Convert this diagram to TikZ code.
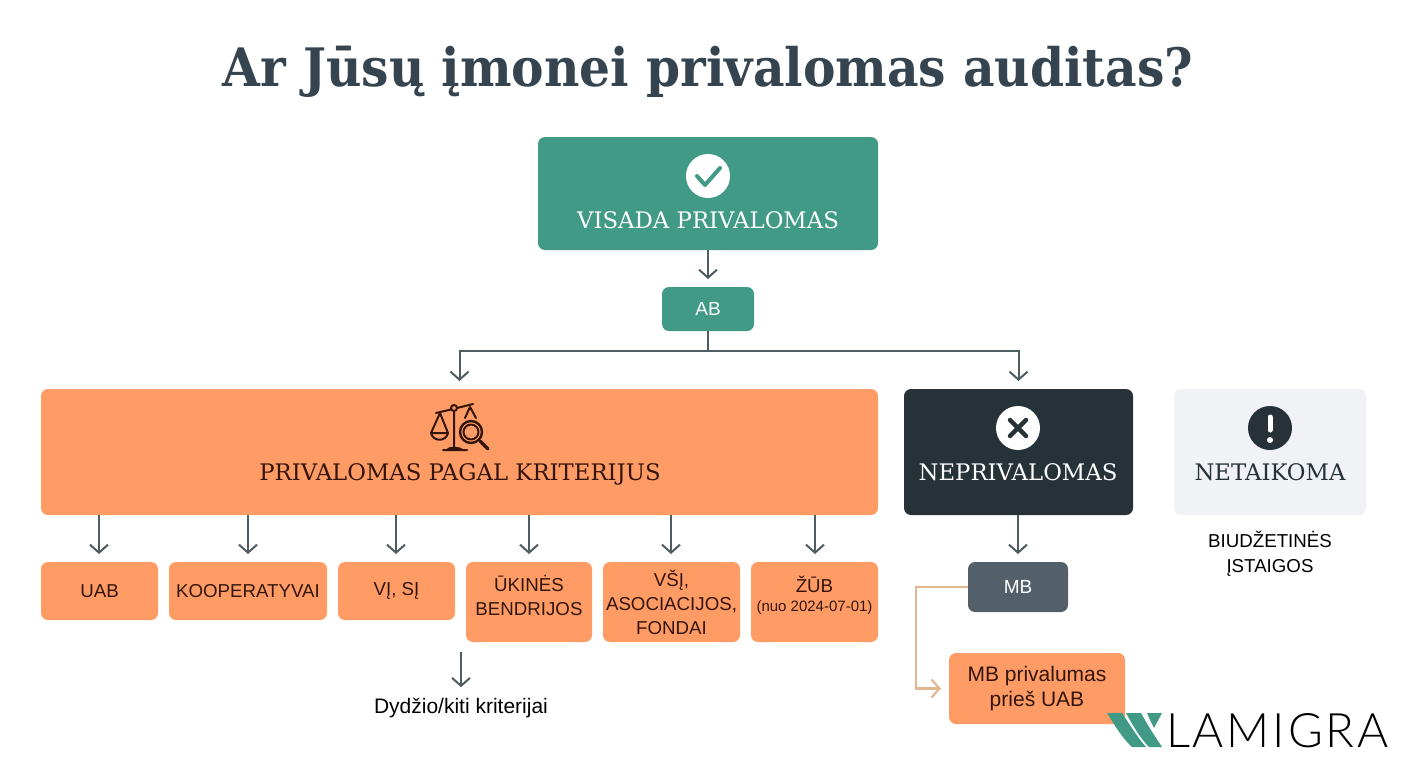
\documentclass[tikz,border=0pt]{standalone}
\usepackage{fontspec}
\usepackage{xcolor}
\setmainfont{Liberation Sans}
\newfontfamily\titlefont[FakeStretch=0.92]{DejaVu Serif}
\newfontfamily\headfont{DejaVu Serif}
\newfontfamily\logofont[LetterSpace=6]{Lato Light}
\usetikzlibrary{arrows.meta, positioning}
\definecolor{lmteal}{HTML}{409A85}
\definecolor{lmorange}{HTML}{FF9C66}
\definecolor{lmdark}{HTML}{263238}
\definecolor{lmslate}{HTML}{535F69}
\definecolor{lmlight}{HTML}{F1F2F6}
\definecolor{lmtitle}{HTML}{36444F}
\definecolor{lmbrown}{HTML}{33150B}
\definecolor{lmline}{HTML}{4E5D62}
\definecolor{lmtan}{HTML}{E3B68F}
\begin{document}
\begin{tikzpicture}[
  x=1pt, y=-1pt,
  every node/.style={inner sep=0pt, outer sep=0pt, align=center},
  block/.style={rectangle, rounded corners=7pt, anchor=north west},
  orangebox/.style={block, fill=lmorange, text=lmbrown, font=\fontsize{18.7}{24}\selectfont},
  headlabel/.style={font=\headfont\fontsize{22.8}{28}\selectfont},
  flow/.style={draw=lmline, line width=2pt, shorten >=8pt, -{Straight Barb[length=8pt, width=18pt]}},
]
\useasboundingbox (0,0) rectangle (1408,768);

\node[font=\titlefont\bfseries\fontsize{53}{60}\selectfont, text=lmtitle] (title) at (708,72) {Ar Jūsų įmonei privalomas auditas?};

% Top levels
\node[block, fill=lmteal, minimum width=340, minimum height=113] (always) at (538,137) {};
\node[headlabel, text=white] (alwayslabel) at (708,220) {VISADA PRIVALOMAS};
\node[block, fill=lmteal, text=white, minimum width=92, minimum height=44, font=\fontsize{19}{22}\selectfont] (ab) at (662,287) {AB};

\node[block, fill=lmorange, minimum width=837, minimum height=126] (criteria) at (41,389) {};
\node[headlabel, text=lmbrown] (criterialabel) at (460,474) {PRIVALOMAS PAGAL KRITERIJUS};
\node[block, fill=lmdark, minimum width=229, minimum height=126] (notreq) at (904,389) {};
\node[headlabel, text=white] (notreqlabel) at (1018,472) {NEPRIVALOMAS};
\node[block, fill=lmlight, minimum width=192, minimum height=126] (notappl) at (1174,389) {};
\node[headlabel, text=lmdark] (notappllabel) at (1270,472) {NETAIKOMA};
\node[text=black, font=\fontsize{18.7}{25}\selectfont] (budget) at (1270,554) {BIUDŽETINĖS\\ĮSTAIGOS};

% Entity boxes
\node[orangebox, minimum width=117, minimum height=58] (uab) at (41,562) {UAB};
\node[orangebox, minimum width=158, minimum height=58] (coop) at (169,562) {KOOPERATYVAI};
\node[orangebox, minimum width=117, minimum height=58] (vi) at (338,562) {VĮ, SĮ};
\node[orangebox, minimum width=126, minimum height=80, text depth=13pt] (ukines) at (466,562) {ŪKINĖS\\BENDRIJOS};
\node[orangebox, minimum width=137, minimum height=80] (vsi) at (603,562) {VŠĮ,\\ASOCIACIJOS,\\FONDAI};
\node[orangebox, minimum width=127, minimum height=80, text depth=17pt] (zub) at (751,562) {ŽŪB\\[-5pt]{\fontsize{15}{17}\selectfont (nuo 2024-07-01)}};
\node[block, fill=lmslate, text=white, minimum width=100, minimum height=50, font=\fontsize{19}{22}\selectfont] (mb) at (968,562) {MB};
\node[orangebox, minimum width=176, minimum height=71, font=\fontsize{21}{25}\selectfont] (mbbefore) at (949,653) {MB privalumas\\prieš UAB};
\node[text=black, font=\fontsize{21}{24}\selectfont] (size) at (461,708) {Dydžio/kiti kriterijai};

% Connectors
\coordinate (bus) at (708,351);
\coordinate (sizestart) at (461,652);
\draw[flow] (always) -- (ab);
\draw[draw=lmline, line width=2pt] (ab) -- (bus);
\draw[flow] (bus) -| (criteria);
\draw[flow] (bus) -| (notreq);
\foreach \target/\xpos in {uab/99, coop/248, vi/396, ukines/529, vsi/671, zub/815} {
  \draw[flow] (\xpos,515) -- (\target.north -| {\xpos,0});
}
\draw[flow] (notreq.south -| mb.north) -- (mb.north);
\draw[flow, shorten >=11pt] (sizestart) -- (size);
\draw[draw=lmtan, line width=2.2pt, shorten >=8pt, -{Straight Barb[length=8pt, width=18pt]}] (mb.west) -- (916,587) |- (mbbefore.west);

% Icons
\fill[white] (708,176) circle (22);
\draw[lmteal, line width=4pt, line cap=round, line join=round] (697,176) -- (705,185) -- (720,168);
\fill[white] (1018,428) circle (22);
\draw[lmdark, line width=4.5pt, line cap=round] (1010,420) -- (1026,436) (1026,420) -- (1010,436);
\fill[lmdark] (1270,428) circle (22);
\draw[white, line width=5pt, line cap=round] (1270,417) -- (1270,430);
\fill[white] (1270,440) circle (3);
\begin{scope}[draw=lmbrown, line width=2pt, line cap=round, line join=round]
  \draw (454,411) -- (454,449) (443,450) -- (467,450) (447,450) .. controls (448,447) and (460,447) .. (462,450);
  \draw (436,413) -- (451,409.5) (457,408) -- (473,404);
  \draw (454,408) circle (3);
  \draw (440,413) -- (431,433) -- (448,433) -- cycle;
  \draw (431,433) .. controls (433,442) and (446,442) .. (448,433);
  \draw (470,407) -- (465,418) (470,407) -- (476,418);
  \draw[fill=lmorange, line width=2.4pt] (471,432) circle (11);
  \draw (471,432) circle (7.5);
  \draw[line width=3.5pt] (480,441) -- (488,449);
\end{scope}

% Logo
\fill[lmteal] (1107,713) -- (1122,713) .. controls (1132,728) and (1138,738) .. (1146,747) -- (1132,747) .. controls (1122,738) and (1114,724) .. cycle;
\fill[lmteal] (1126,713) -- (1141,713) .. controls (1148,726) and (1156,738) .. (1162,747) -- (1149,747) .. controls (1140,738) and (1132,724) .. cycle;
\fill[lmteal] (1147,713) -- (1162,713) -- (1154,728) .. controls (1152,724) and (1149,718) .. cycle;
\node[font=\logofont\fontsize{47.5}{50}\selectfont, text=black, anchor=base west] (logo) at (1166,747) {LAMIGRA};
\end{tikzpicture}
\end{document}
